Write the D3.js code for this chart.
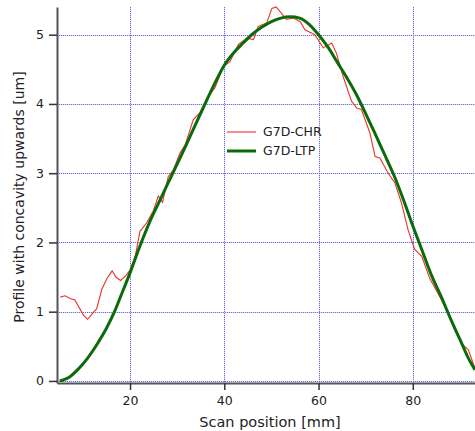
<!DOCTYPE html>
<html>
<head>
<meta charset="utf-8">
<script src="https://cdn.jsdelivr.net/npm/d3@7"></script>
<style>
  html, body { margin: 0; padding: 0; background: #fff; }
  svg { display: block; }
  text { font-family: "DejaVu Sans", sans-serif; fill: #222; }
</style>
</head>
<body>
<svg id="chart" width="475" height="431"></svg>
<script>
// ---- data ----
const chrX = [5.2, 6.2, 7.3, 8.3, 10.1, 11.0, 12.2, 12.9, 14.0, 15.1, 16.2, 17.0, 18.0, 19.1, 20.0, 21.1, 22.1, 23.5, 24.9, 26.0, 26.9, 28.1, 29.2, 30.6, 31.7, 33.4, 34.8, 36.6, 38.0, 39.8, 41.2, 43.0, 44.8, 46.2, 47.2, 49.0, 50.1, 51.0, 53.2, 54.6, 56.1, 57.1, 59.2, 61.0, 62.8, 63.8, 65.2, 67.0, 68.1, 69.1, 70.9, 72.0, 73.0, 74.8, 76.2, 77.6, 79.0, 80.4, 81.9, 83.6, 85.7, 87.5, 88.6, 90.3, 91.8, 93.2];
const chrY = [1.21, 1.23, 1.19, 1.17, 0.95, 0.89, 0.99, 1.04, 1.32, 1.48, 1.59, 1.50, 1.45, 1.52, 1.60, 1.80, 2.16, 2.28, 2.45, 2.67, 2.58, 2.95, 3.05, 3.29, 3.41, 3.77, 3.87, 4.11, 4.23, 4.54, 4.61, 4.86, 4.95, 4.93, 5.12, 5.17, 5.38, 5.40, 5.22, 5.24, 5.19, 5.07, 5.00, 4.81, 4.88, 4.73, 4.40, 4.04, 3.94, 3.92, 3.58, 3.24, 3.22, 3.00, 2.86, 2.57, 2.18, 1.90, 1.80, 1.48, 1.22, 1.00, 0.78, 0.54, 0.45, 0.18];

const ltpX = [5.1, 6, 7, 9, 11, 13, 15, 16.7, 18, 20, 22, 24.2, 26, 28, 30, 32, 34, 35.7, 38, 40, 42, 44, 46, 48, 50, 52, 54, 56, 58, 60, 62, 64, 66, 68, 70, 72, 74, 76, 78, 80, 82, 84, 86, 88, 90, 92, 93.2];
const ltpY = [0.0, 0.02, 0.05, 0.17, 0.33, 0.53, 0.76, 1.0, 1.22, 1.56, 1.93, 2.30, 2.56, 2.85, 3.13, 3.42, 3.72, 3.97, 4.30, 4.56, 4.74, 4.88, 5.01, 5.11, 5.19, 5.24, 5.26, 5.24, 5.15, 5.00, 4.82, 4.60, 4.38, 4.14, 3.86, 3.57, 3.27, 2.97, 2.62, 2.24, 1.88, 1.52, 1.22, 0.90, 0.60, 0.30, 0.16];

const xTicks = [20, 40, 60, 80];
const yTicks = [0, 1, 2, 3, 4, 5];
const seriesNames = ["G7D-CHR", "G7D-LTP"];
const seriesColors = ["#e8342c", "#0b6b0b"];

// ---- chart ----
const svg = d3.select("#chart");
const x = d3.scaleLinear().domain([4.5, 93.2]).range([57, 475]);
const y = d3.scaleLinear().domain([-0.03, 5.4]).range([383, 7]);

// grid: light solid base + blue dots on top
const grid = svg.append("g").attr("shape-rendering", "crispEdges");
[["#dadaf4", null], ["#6c6ce0", "1,1"]].forEach(([col, dash]) => {
  grid.selectAll(null).data(xTicks).enter().append("line")
    .attr("x1", d => Math.round(x(d)) + 0.5).attr("x2", d => Math.round(x(d)) + 0.5)
    .attr("y1", y.range()[1]).attr("y2", y.range()[0])
    .attr("stroke", col).attr("stroke-width", 1).attr("stroke-dasharray", dash);
  grid.selectAll(null).data(yTicks).enter().append("line")
    .attr("x1", x.range()[0]).attr("x2", x.range()[1])
    .attr("y1", d => Math.round(y(d)) + 0.5).attr("y2", d => Math.round(y(d)) + 0.5)
    .attr("stroke", col).attr("stroke-width", 1).attr("stroke-dasharray", dash);
});

// lines
const chr = chrX.map((d, i) => [d, chrY[i]]);
const ltp = ltpX.map((d, i) => [d, ltpY[i]]);
const lineLin = d3.line().x(d => x(d[0])).y(d => y(d[1]));
const lineSmooth = d3.line().x(d => x(d[0])).y(d => y(d[1])).curve(d3.curveMonotoneX);

svg.append("path").datum(chr).attr("d", lineLin)
  .attr("fill", "none").attr("stroke", seriesColors[0]).attr("stroke-width", 1.1);
svg.append("path").datum(ltp).attr("d", lineSmooth)
  .attr("fill", "none").attr("stroke", seriesColors[1]).attr("stroke-width", 3);

// axes
const xAxis = d3.axisBottom(x).tickValues(xTicks).tickFormat(d3.format("d")).tickSize(7).tickSizeOuter(0).tickPadding(6);
const yAxis = d3.axisLeft(y).tickValues(yTicks).tickFormat(d3.format("d")).tickSize(8).tickSizeOuter(0).tickPadding(5);

const gx = svg.append("g").attr("transform", `translate(0,${y.range()[0]})`).call(xAxis);
const gy = svg.append("g").attr("transform", `translate(${x.range()[0]},0)`).call(yAxis);
[gx, gy].forEach(g => {
  g.select(".domain").attr("stroke", "#555").attr("stroke-width", 2);
  g.selectAll(".tick line").attr("stroke", "#333").attr("stroke-width", 1.5);
  g.selectAll(".tick text").style("font-family", "DejaVu Sans, sans-serif").style("font-size", "12.5px").attr("fill", "#222");
});

// axis titles
svg.append("text").attr("x", 270).attr("y", 427)
  .attr("text-anchor", "middle").style("font-size", "14.5px").text("Scan position [mm]");
svg.append("text").attr("transform", "translate(24,197) rotate(-90)")
  .attr("text-anchor", "middle").style("font-size", "14px").text("Profile with concavity upwards [um]");

// legend
const leg = svg.append("g");
seriesNames.forEach((n, i) => {
  const yy = 132 + i * 19;
  leg.append("line").attr("x1", 227).attr("x2", 256).attr("y1", yy).attr("y2", yy)
    .attr("stroke", seriesColors[i]).attr("stroke-width", i === 0 ? 1.1 : 3);
  leg.append("text").attr("x", 263).attr("y", yy).attr("dy", "0.35em")
    .style("font-size", "12.5px").text(n);
});
</script>
</body>
</html>
